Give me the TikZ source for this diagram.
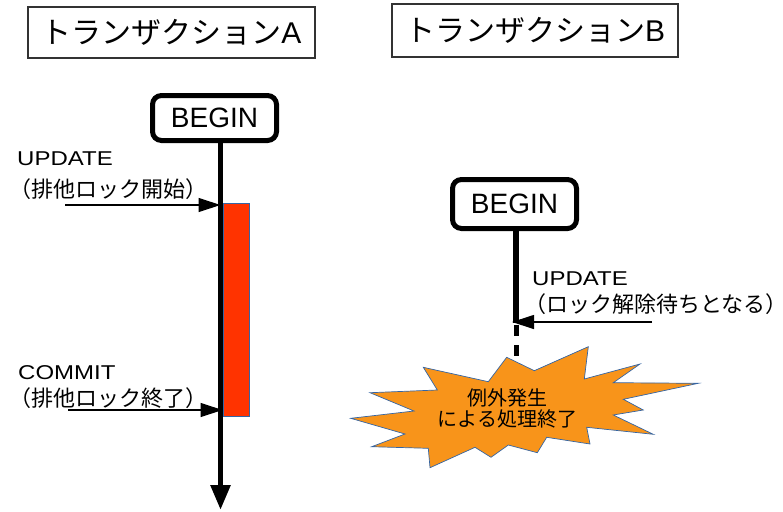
\documentclass[tikz,border=0pt]{standalone}
\usepackage{graphicx}
\usepackage{fontspec}
\setmainfont{Liberation Sans}
\newfontfamily\jp{Noto Sans CJK JP}
\usetikzlibrary{arrows.meta}
\definecolor{lockred}{HTML}{FF3300}
\definecolor{boom}{HTML}{F8941A}
\definecolor{edgeblue}{HTML}{3465A4}
\definecolor{framegray}{HTML}{333333}
\newcommand\widelat[1]{\scalebox{1.2}[1]{#1}}
\begin{document}
\begin{tikzpicture}[x=1pt,y=-1pt,
  titlebox/.style={draw=framegray,line width=1.2pt,inner sep=0pt,font=\fontsize{30}{36}\selectfont},
  beginbox/.style={draw=black,line width=5pt,rounded corners=9pt,inner sep=0pt,minimum width=124pt,font=\fontsize{28}{32}\selectfont},
  lifeline/.style={line width=5.5pt},
  msg/.style={line width=1.2pt,-{Triangle[length=22pt,width=14pt]}},
  lat/.style={anchor=base west,inner sep=0pt,font=\fontsize{20}{24}\selectfont},
  jpl/.style={anchor=base west,inner sep=0pt,font=\jp\fontsize{22}{26}\selectfont},
]
\useasboundingbox (0,0) rectangle (783,511);

% titles
\node[titlebox,minimum width=287pt,minimum height=51pt] (tA) at (171.5,32.5) {{\jp トランザクション}A};
\node[titlebox,minimum width=286pt,minimum height=53pt] (tB) at (535,30.5) {{\jp トランザクション}B};

% transaction A
\node[beginbox,minimum height=45pt] (bA) at (214.5,118) {BEGIN};
\node[fill=lockred,draw=edgeblue,line width=0.6pt,minimum width=26pt,minimum height=213pt,inner sep=0pt] (lockA) at (236,309.5) {};
\coordinate (aEnd) at (220.5,510);
\draw[lifeline,-{Triangle[length=25pt,width=19pt]}] (bA.south -| aEnd) -- (aEnd);

\node[lat] (updA) at (17,165) {\widelat{UPDATE}};
\node[jpl] (updAjp) at (9,197.5) {（排他ロック開始）};
\coordinate (uAs) at (65,205);
\draw[msg] (uAs) -- (uAs -| aEnd);

\node[lat] (comA) at (18,379) {\widelat{COMMIT}};
\node[jpl] (comAjp) at (9,406) {（排他ロック終了）};
\coordinate (cAs) at (68,410);
\draw[msg] (cAs) -- ([xshift=2pt]cAs -| aEnd);

% transaction B
\node[beginbox,minimum height=49pt] (bB) at (514.5,204) {BEGIN};
\coordinate (bLine) at (516,323);
\draw[lifeline] (bB.south -| bLine) -- (bLine);
\coordinate (dS) at (516,325);
\coordinate (dE) at (516,357);
\draw[line width=5pt,dash pattern=on 11pt off 9pt] (dS) -- (dE);

\node[lat] (updB) at (532,285) {\widelat{UPDATE}};
\node[jpl] (updBjp) at (524,312) {（ロック解除待ちとなる）};
\coordinate (uBs) at (652,322);
\draw[msg] (uBs) -- ([xshift=-4pt]uBs -| bLine);

% explosion
\draw[fill=boom,draw=edgeblue,line width=0.7pt]
  (506.7,357.3) -- (534.3,370.7) -- (588.3,346.7) -- (584.3,379) -- (640,364)
  -- (613.3,382.7) -- (698.3,383.3) -- (623.3,399.3) -- (643.3,410) -- (613.3,415)
  -- (653.3,434.3) -- (586.7,427.3) -- (590,444) -- (546.7,437.3) -- (537.3,452.7)
  -- (508.3,445) -- (491,457.3) -- (475,447.3) -- (430,467.7) -- (428.3,448.3)
  -- (371.7,446.7) -- (405,434) -- (350.7,418.3) -- (414,411) -- (370,392.7)
  -- (437.3,390) -- (423.3,367.3) -- (488.3,381.7) -- cycle;
\node[align=center,inner sep=0pt,font=\jp\fontsize{20}{21}\selectfont] (boomtext) at (507.5,408) {例外発生\\による処理終了};
\end{tikzpicture}
\end{document}
